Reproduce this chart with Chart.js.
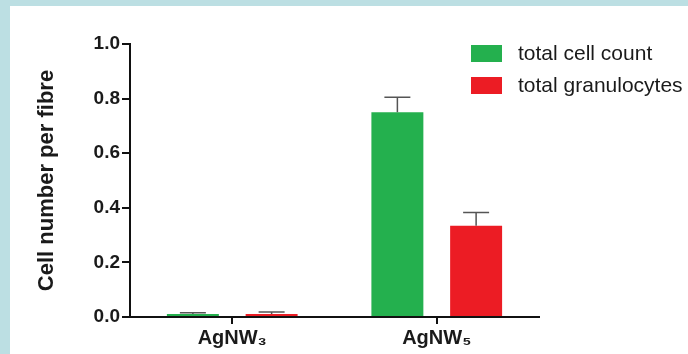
<!DOCTYPE html>
<html>
<head>
<meta charset="utf-8">
<script src="https://cdn.jsdelivr.net/npm/chart.js@4.4.1/dist/chart.umd.min.js"></script>
<style>
  html, body { margin: 0; padding: 0; }
  body { width: 688px; height: 354px; background: #bcdfe3; position: relative; overflow: hidden; font-family: 'Liberation Sans', Arial, sans-serif; }
  #panel { position: absolute; left: 10px; top: 6px; right: 0; bottom: 0; background: #ffffff; }
  #wrap { position: absolute; left: 0; top: 0; width: 688px; height: 354px; }
  #legend { position: absolute; left: 471px; top: 43px; }
  .item { position: absolute; left: 0; height: 20px; white-space: nowrap; }
  .box { position: absolute; left: 0; width: 31px; height: 17px; }
  .lab { position: absolute; left: 47px; top: -5px; font-size: 21px; color: #1a1a1a; line-height: 25px; }
</style>
</head>
<body>
<div id="panel"></div>
<div id="wrap"><canvas id="c" width="688" height="354"></canvas></div>
<div id="legend"></div>
<script>
const categories = ['AgNW\u2083', 'AgNW\u2085'];
const seriesNames = ['total cell count', 'total granulocytes'];
const totalCellCount = [0.011, 0.75];
const totalCellCountErr = [0.005, 0.055];
const totalGranulocytes = [0.011, 0.334];
const totalGranulocytesErr = [0.007, 0.049];
const seriesColors = ['#24b04e', '#ec1c24'];
const yAxisTitle = 'Cell number per fibre';

const FONT = "'Liberation Sans', Arial, sans-serif";

const errorBars = {
  id: 'errorBars',
  afterDatasetsDraw(chart) {
    const ctx = chart.ctx;
    const y = chart.scales.y;
    ctx.save();
    ctx.strokeStyle = '#555555';
    ctx.lineWidth = 1.5;
    chart.data.datasets.forEach((ds, i) => {
      const meta = chart.getDatasetMeta(i);
      meta.data.forEach((bar, j) => {
        const v = ds.data[j];
        const e = ds.errors[j];
        const top = y.getPixelForValue(v + e);
        const base = y.getPixelForValue(v);
        const half = bar.width * 0.25;
        ctx.beginPath();
        ctx.moveTo(bar.x, base);
        ctx.lineTo(bar.x, top);
        ctx.moveTo(bar.x - half, top);
        ctx.lineTo(bar.x + half, top);
        ctx.stroke();
      });
    });
    ctx.restore();
  }
};

const chart = new Chart(document.getElementById('c'), {
  type: 'bar',
  data: {
    labels: categories,
    datasets: [
      { label: seriesNames[0], data: totalCellCount, errors: totalCellCountErr, backgroundColor: seriesColors[0], borderWidth: 0 },
      { label: seriesNames[1], data: totalGranulocytes, errors: totalGranulocytesErr, backgroundColor: seriesColors[1], borderWidth: 0 }
    ]
  },
  options: {
    responsive: false,
    animation: false,
    layout: { padding: { left: 0, top: 44, right: 149, bottom: 0 } },
    datasets: { bar: { categoryPercentage: 0.77, barPercentage: 0.66 } },
    plugins: { legend: { display: false }, tooltip: { enabled: false } },
    scales: {
      x: {
        offset: true,
        grid: { display: true, offset: false, drawOnChartArea: false, drawTicks: true, tickLength: 7, color: '#111', lineWidth: 2 },
        border: { display: true, color: '#111', width: 2 },
        ticks: { color: '#1a1a1a', font: { family: FONT, size: 20, weight: 'bold' }, padding: 2, maxRotation: 0 },
        afterFit(scale) { scale.height = 37; }
      },
      y: {
        min: 0, max: 1,
        grid: { display: true, drawOnChartArea: false, drawTicks: true, tickLength: 8, color: '#111', lineWidth: 2 },
        border: { display: true, color: '#111', width: 2 },
        ticks: { stepSize: 0.2, color: '#1a1a1a', font: { family: FONT, size: 19, weight: 'bold' }, padding: 2, callback: v => Number(v).toFixed(1) },
        title: { display: true, text: yAxisTitle, color: '#1a1a1a', font: { family: FONT, size: 22, weight: 'bold' }, padding: { top: 34, bottom: 0 } },
        afterFit(scale) { scale.width = 130; }
      }
    }
  },
  plugins: [errorBars]
});

const legend = document.getElementById('legend');
seriesNames.forEach((name, i) => {
  const item = document.createElement('div');
  item.className = 'item';
  item.style.top = (i * 32 + 2) + 'px';
  const box = document.createElement('div');
  box.className = 'box';
  box.style.background = seriesColors[i];
  const lab = document.createElement('div');
  lab.className = 'lab';
  lab.textContent = name;
  item.appendChild(box);
  item.appendChild(lab);
  legend.appendChild(item);
});
</script>
</body>
</html>
